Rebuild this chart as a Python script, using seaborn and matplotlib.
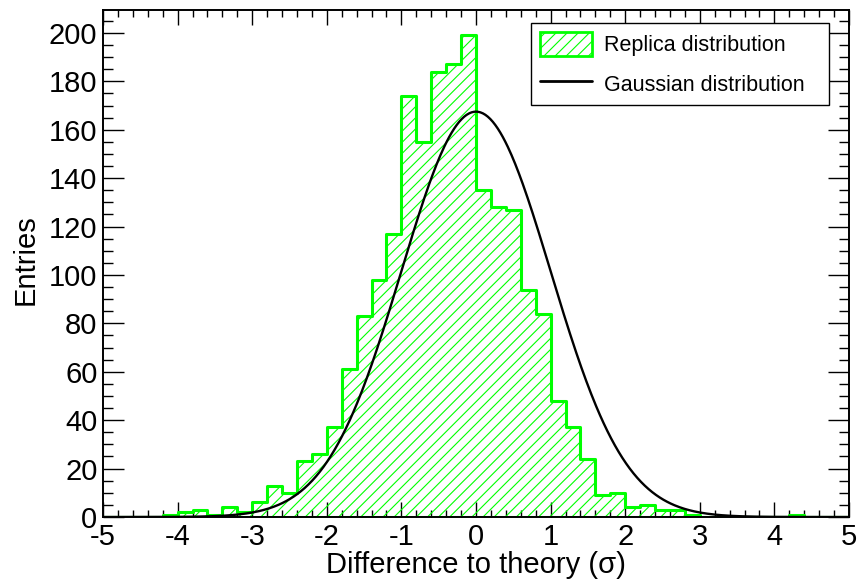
import numpy as np
import pandas as pd
import matplotlib
matplotlib.use("Agg")
import matplotlib.pyplot as plt
import seaborn as sns
from matplotlib.patches import Patch
from matplotlib.lines import Line2D
from matplotlib.ticker import MultipleLocator

# ---- data ----
bin_edges = np.round(np.arange(-5.0, 5.0001, 0.2), 2)
bin_counts = [0, 0, 0, 0, 1, 2, 3, 1, 4, 2,
              6, 13, 10, 23, 26, 37, 61, 83, 98, 117,
              174, 155, 184, 187, 199, 135, 128, 127, 94, 84,
              48, 37, 24, 9, 10, 4, 5, 3, 3, 1,
              0, 0, 0, 0, 0, 0, 1, 0, 0, 0]
gauss_amplitude = 167.5
gauss_mean = 0.0
gauss_sigma = 1.0
x_ticks = [-5, -4, -3, -2, -1, 0, 1, 2, 3, 4, 5]
y_ticks = [0, 20, 40, 60, 80, 100, 120, 140, 160, 180, 200]
series_labels = ["Replica distribution", "Gaussian distribution"]
x_title = "Difference to theory (\u03c3)"
y_title = "Entries"

GREEN = "#00ff00"

sns.set_theme(style="ticks")
plt.rcParams["font.family"] = ["Liberation Sans", "DejaVu Sans"]
plt.rcParams["axes.unicode_minus"] = False
plt.rcParams["hatch.linewidth"] = 0.8
plt.rcParams["text.color"] = "black"
plt.rcParams["axes.labelcolor"] = "black"

centers = (bin_edges[:-1] + bin_edges[1:]) / 2
df = pd.DataFrame({"x": centers, "w": bin_counts})

gx = np.linspace(-5, 5, 600)
gdf = pd.DataFrame({"x": gx,
                    "y": gauss_amplitude * np.exp(-0.5 * ((gx - gauss_mean) / gauss_sigma) ** 2)})

fig = plt.figure(figsize=(8.6, 5.8), dpi=100)
ax = fig.add_axes([103 / 860, 63 / 580, 746 / 860, 507 / 580])

sns.histplot(data=df, x="x", weights="w", binwidth=0.2, binrange=(-5, 5),
             element="step", fill=True, ax=ax, color=GREEN, linewidth=2.2)
poly = ax.collections[-1]
poly.set_facecolor("none")
poly.set_edgecolor(GREEN)
poly.set_hatch("///")
poly.set_linewidth(2.2)
poly.set_alpha(1)

sns.lineplot(data=gdf, x="x", y="y", ax=ax, color="black", linewidth=1.7)

ax.set_xlim(-5, 5)
ax.set_ylim(0, 209.5)
ax.set_xticks(x_ticks)
ax.set_xticklabels([str(t) for t in x_ticks])
ax.set_yticks(y_ticks)
ax.set_yticklabels([str(t) for t in y_ticks])
ax.xaxis.set_minor_locator(MultipleLocator(0.2))
ax.yaxis.set_minor_locator(MultipleLocator(5))
ax.tick_params(which="both", direction="in", top=True, right=True,
               colors="black", width=1.0)
ax.tick_params(axis="x", which="major", length=10.5, labelsize=21, pad=4)
ax.tick_params(axis="x", which="minor", length=5.2)
ax.tick_params(axis="y", which="major", length=15, labelsize=21, pad=4)
ax.tick_params(axis="y", which="minor", length=7.5)
for s in ax.spines.values():
    s.set_visible(True)
    s.set_color("black")
    s.set_linewidth(1.4)

ax.set_xlabel(x_title, fontsize=21, color="black")
ax.set_ylabel(y_title, fontsize=21, color="black")
ax.xaxis.set_label_coords(0.5, -0.068)
ax.yaxis.set_label_coords(-0.085, 0.507)

handles = [Patch(facecolor="none", edgecolor=GREEN, hatch="///", linewidth=2),
           Line2D([0], [0], color="black", linewidth=2)]
leg = ax.legend(handles, series_labels, loc="upper left", mode="expand",
                bbox_to_anchor=(0.5737, 0.70, 0.3995, 0.274), fontsize=15.5,
                frameon=True, fancybox=False, edgecolor="black", framealpha=1,
                handlelength=2.4, handleheight=1.3, borderpad=0.42,
                labelspacing=0.72, handletextpad=0.55, borderaxespad=0)
leg.get_frame().set_linewidth(1.0)
for t in leg.get_texts():
    t.set_color("black")

fig.savefig("out.png", dpi=100)
